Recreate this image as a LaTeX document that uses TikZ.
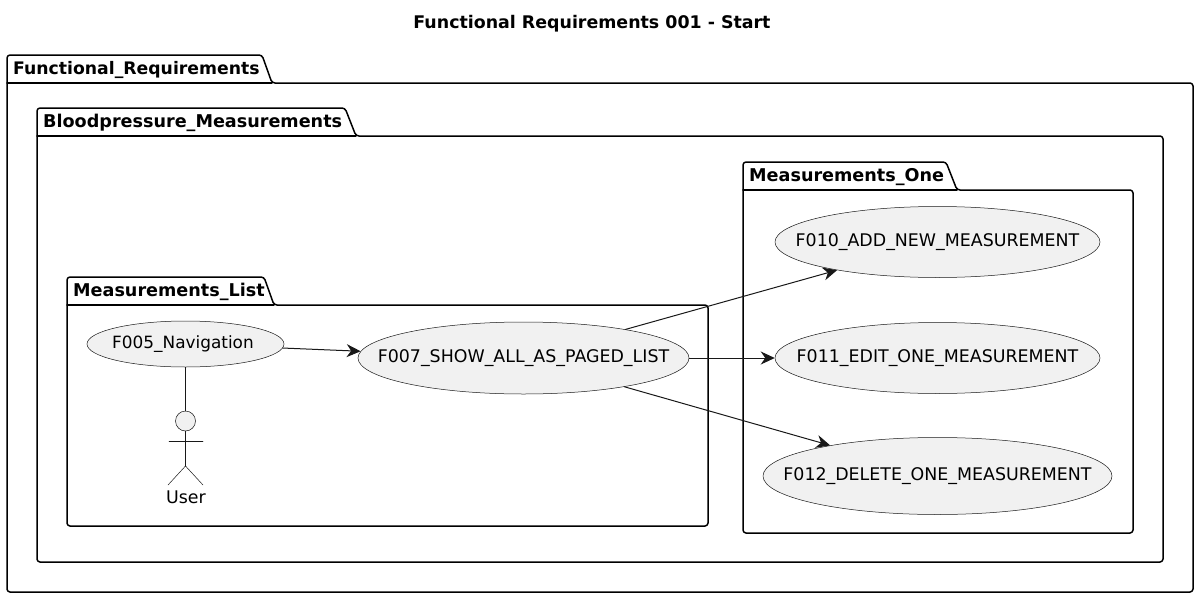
\documentclass[tikz,border=0pt]{standalone}
\usepackage{fontspec}
\setmainfont{DejaVu Sans}
\usetikzlibrary{arrows.meta}
\usetikzlibrary{shapes.geometric}
\definecolor{ucfill}{HTML}{F1F1F1}
\definecolor{ucline}{HTML}{181818}
\newcommand{\uctext}[1]{\raisebox{-1pt}{\makebox[0pt]{#1}}}
\tikzset{
  pkgbox/.style={line width=1.5pt,draw=black,line join=round},
  pkglabel/.style={anchor=base west,inner sep=0pt,font=\fontsize{17.6}{20}\selectfont\bfseries},
  usecase/.style={ellipse,draw=ucline,fill=ucfill,line width=0.5pt,inner sep=0pt,font=\fontsize{17.4}{20}\selectfont},
  actorline/.style={draw=ucline,line width=0.5pt},
  link/.style={draw=ucline,line width=1pt,-{Stealth[length=14pt,width=13pt,inset=4.5pt]}}
}
\begin{document}
\begin{tikzpicture}[x=1pt,y=-1pt,line cap=round]
\useasboundingbox (0,0) rectangle (1200,600);
\node[inner sep=0pt,font=\fontsize{17.4}{20}\selectfont\bfseries] (title) at (592,24) {Functional Requirements 001 - Start};
% packages
\draw[pkgbox,rounded corners=3pt] (7,83)--(7,55)--(262,55)--(272,83)--(1193,83)--(1193,592)--(7,592)--cycle;
\draw[pkgbox] (7,83)--(272,83);
\node[pkglabel,font=\fontsize{17.25}{20}\selectfont\bfseries] (functional) at (13,74) {Functional\_Requirements};
\draw[pkgbox,rounded corners=3pt] (37,136)--(37,108)--(345,108)--(356,136)--(1163,136)--(1163,562)--(37,562)--cycle;
\draw[pkgbox] (37,136)--(356,136);
\node[pkglabel] (bloodpressure) at (43,127) {Bloodpressure\_Measurements};
\draw[pkgbox,rounded corners=3pt] (67,305)--(67,277)--(264,277)--(274,305)--(708,305)--(708,526)--(67,526)--cycle;
\draw[pkgbox] (67,305)--(274,305);
\node[pkglabel] (list) at (73,296) {Measurements\_List};
\draw[pkgbox,rounded corners=3pt] (743,190)--(743,162)--(946,162)--(957,190)--(1133,190)--(1133,533)--(743,533)--cycle;
\draw[pkgbox] (743,190)--(957,190);
\node[pkglabel] (one) at (749,181) {Measurements\_One};
% use cases
\node[usecase,minimum width=197pt,minimum height=46pt,font=\fontsize{16.9}{20}\selectfont] (nav) at (185.5,344) {\uctext{\hspace*{-5pt}F005\_Navigation}};
\node[usecase,minimum width=331pt,minimum height=72pt] (paged) at (523.5,358) {\uctext{F007\_SHOW\_ALL\_AS\_PAGED\_LIST}};
\node[usecase,minimum width=325pt,minimum height=71pt] (add) at (937.5,242) {\uctext{F010\_ADD\_NEW\_MEASUREMENT}};
\node[usecase,minimum width=325pt,minimum height=71pt] (edit) at (937.5,358) {\uctext{F011\_EDIT\_ONE\_MEASUREMENT}};
\node[usecase,minimum width=349pt,minimum height=77pt] (delete) at (937.5,476) {\uctext{F012\_DELETE\_ONE\_MEASUREMENT}};
% actor
\node[circle,draw=ucline,fill=ucfill,line width=0.5pt,inner sep=0pt,minimum size=20pt] (head) at (185.5,421) {};
\coordinate (hip) at (185.5,466);
\draw[actorline] (head.south)--(hip);
\draw[actorline] (169,441)--(203,441);
\draw[actorline] (168,485)--(hip)--(203,485);
\node[inner sep=0pt,font=\fontsize{17.4}{20}\selectfont] (user) at (186,497) {User};
% links
\draw[draw=ucline,line width=1pt] (nav)--(head);
\draw[link] (nav)--(paged);
\draw[link] (paged)--(add);
\draw[link] (paged)--(edit);
\draw[link] (paged)--(delete);
\end{tikzpicture}
\end{document}
